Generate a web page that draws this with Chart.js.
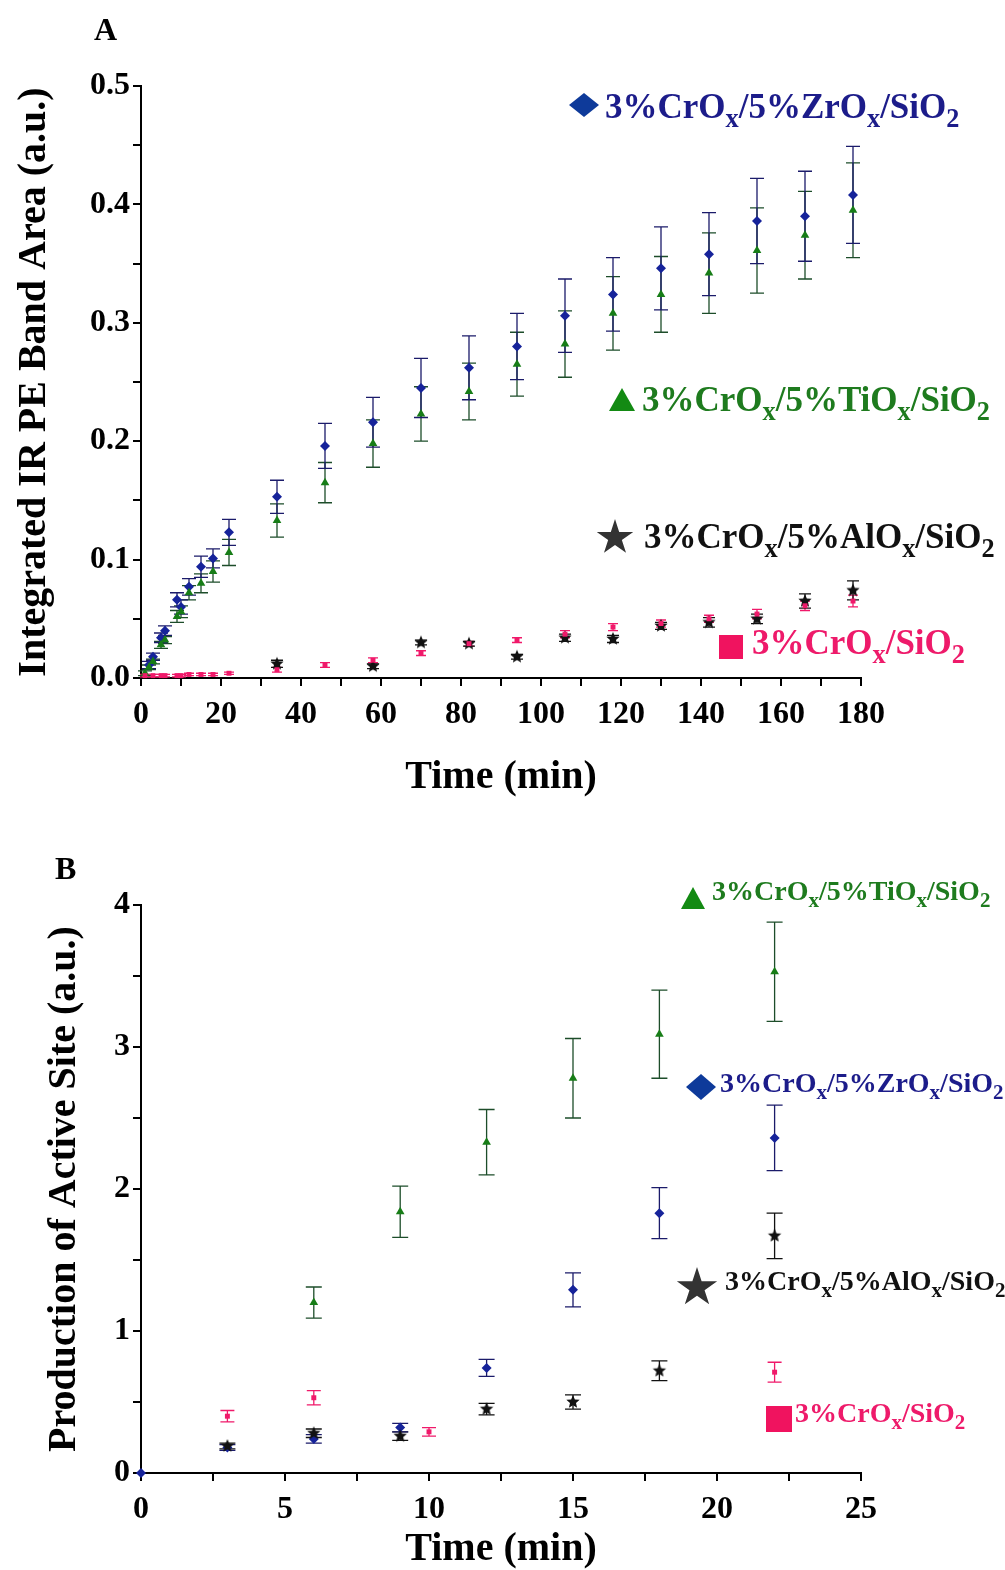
<!DOCTYPE html>
<html lang="en">
<head>
<meta charset="UTF-8">
<title>Integrated IR PE band area and active site production</title>
<script src="https://cdn.jsdelivr.net/npm/chart.js"></script>
<style>
  body { margin: 0; background: #fff; width: 1005px; height: 1570px; position: relative; overflow: hidden; font-family: "Liberation Serif", serif; }
  .pane { position: absolute; left: 0; width: 1005px; }
  #paneA { top: 0; height: 800px; }
  #paneB { top: 830px; height: 740px; }
  .lbl { position: absolute; font-weight: bold; white-space: nowrap; line-height: 1; }
  .lbl sub { font-size: 75%; vertical-align: -0.35em; line-height: 0; }
  .mk { position: absolute; }
  .dia { clip-path: polygon(50% 0, 100% 50%, 50% 100%, 0 50%); }
  .tri { clip-path: polygon(50% 0, 100% 100%, 0 100%); }
  .star { clip-path: polygon(50% 0%, 61% 35%, 98% 35%, 68% 57%, 79% 91%, 50% 70%, 21% 91%, 32% 57%, 2% 35%, 39% 35%); }
</style>
</head>
<body>
<div class="pane" id="paneA"><canvas id="chartA" width="1005" height="800"></canvas></div>
<div class="pane" id="paneB"><canvas id="chartB" width="1005" height="740"></canvas></div>

<div class="lbl" style="left:94px;top:13px;font-size:32px;">A</div>
<div class="lbl" style="left:55px;top:852px;font-size:32px;">B</div>

<!-- panel A legend -->
<div class="mk dia" style="left:569px;top:93px;width:30px;height:24px;background:#0e3a9a;"></div>
<div class="lbl" style="left:605px;top:89px;font-size:35px;color:#1c1c8a;">3%CrO<sub>x</sub>/5%ZrO<sub>x</sub>/SiO<sub>2</sub></div>
<div class="mk tri" style="left:609px;top:388px;width:26px;height:23px;background:#138a13;"></div>
<div class="lbl" style="left:642px;top:382px;font-size:35px;color:#1e7b1e;">3%CrO<sub>x</sub>/5%TiO<sub>x</sub>/SiO<sub>2</sub></div>
<div class="mk star" style="left:596px;top:519px;width:38px;height:37px;background:#333;"></div>
<div class="lbl" style="left:644px;top:519px;font-size:35px;color:#111;">3%CrO<sub>x</sub>/5%AlO<sub>x</sub>/SiO<sub>2</sub></div>
<div class="mk" style="left:719px;top:635px;width:24px;height:24px;background:#f0135f;"></div>
<div class="lbl" style="left:752px;top:625px;font-size:35px;color:#ee1a6a;">3%CrO<sub>x</sub>/SiO<sub>2</sub></div>

<!-- panel B legend -->
<div class="mk tri" style="left:681px;top:887px;width:24px;height:22px;background:#138a13;"></div>
<div class="lbl" style="left:712px;top:877px;font-size:28px;color:#1e7b1e;">3%CrO<sub>x</sub>/5%TiO<sub>x</sub>/SiO<sub>2</sub></div>
<div class="mk dia" style="left:686px;top:1074px;width:30px;height:26px;background:#0e3a9a;"></div>
<div class="lbl" style="left:720px;top:1069px;font-size:28px;color:#1c1c8a;">3%CrO<sub>x</sub>/5%ZrO<sub>x</sub>/SiO<sub>2</sub></div>
<div class="mk star" style="left:676px;top:1267px;width:42px;height:41px;background:#333;"></div>
<div class="lbl" style="left:725px;top:1267px;font-size:28px;color:#111;">3%CrO<sub>x</sub>/5%AlO<sub>x</sub>/SiO<sub>2</sub></div>
<div class="mk" style="left:766px;top:1406px;width:26px;height:26px;background:#f0135f;"></div>
<div class="lbl" style="left:795px;top:1399px;font-size:28px;color:#ee1a6a;">3%CrO<sub>x</sub>/SiO<sub>2</sub></div>

<script>
// ---- panel A : integrated IR PE band area vs time ----
var zrTimeA = [2, 3, 5, 6, 9, 10, 12, 15, 18, 22, 34, 46, 58, 70, 82, 94, 106, 118, 130, 142, 154, 166, 178];
var zrAreaA = [0.011, 0.018, 0.034, 0.040, 0.066, 0.060, 0.077, 0.094, 0.101, 0.123, 0.153, 0.196, 0.216, 0.245, 0.262, 0.280, 0.306, 0.324, 0.346, 0.358, 0.386, 0.390, 0.408];
var zrErrA  = [0.003, 0.003, 0.004, 0.004, 0.006, 0.006, 0.007, 0.009, 0.008, 0.011, 0.014, 0.019, 0.021, 0.025, 0.027, 0.028, 0.031, 0.031, 0.035, 0.035, 0.036, 0.038, 0.041];

var tiTimeA = [1, 2, 3, 5, 6, 9, 10, 12, 15, 18, 22, 34, 46, 58, 70, 82, 94, 106, 118, 130, 142, 154, 166, 178];
var tiAreaA = [0.004, 0.009, 0.014, 0.028, 0.032, 0.052, 0.056, 0.072, 0.080, 0.090, 0.106, 0.133, 0.165, 0.198, 0.223, 0.242, 0.265, 0.282, 0.308, 0.324, 0.342, 0.361, 0.374, 0.395];
var tiErrA  = [0.002, 0.002, 0.002, 0.003, 0.003, 0.005, 0.005, 0.006, 0.008, 0.009, 0.011, 0.014, 0.017, 0.020, 0.023, 0.024, 0.027, 0.028, 0.031, 0.032, 0.034, 0.036, 0.037, 0.040];

var alTimeA = [34, 58, 70, 82, 94, 106, 118, 130, 142, 154, 166, 178];
var alAreaA = [0.012, 0.010, 0.030, 0.029, 0.018, 0.034, 0.033, 0.044, 0.047, 0.050, 0.065, 0.074];
var alErrA  = [0.003, 0.002, 0.002, 0.002, 0.002, 0.003, 0.003, 0.003, 0.004, 0.004, 0.006, 0.008];

var crTimeA = [1, 3, 5, 6, 9, 10, 12, 15, 18, 22, 34, 46, 58, 70, 82, 94, 106, 118, 130, 142, 154, 166, 178];
var crAreaA = [0.002, 0.002, 0.002, 0.002, 0.002, 0.002, 0.003, 0.003, 0.003, 0.004, 0.007, 0.011, 0.015, 0.021, 0.029, 0.032, 0.037, 0.043, 0.046, 0.050, 0.054, 0.061, 0.065];
var crErrA  = [0.001, 0.001, 0.001, 0.001, 0.001, 0.001, 0.001, 0.001, 0.001, 0.001, 0.002, 0.002, 0.002, 0.002, 0.002, 0.002, 0.003, 0.003, 0.003, 0.003, 0.004, 0.004, 0.005];

// ---- panel B : production of active site vs time ----
var tiTimeB = [6, 9, 12, 15, 18, 22];
var tiSiteB = [1.20, 1.84, 2.33, 2.78, 3.09, 3.53];
var tiErrB  = [0.11, 0.18, 0.23, 0.28, 0.31, 0.35];

var zrTimeB = [0, 3, 6, 9, 12, 15, 18, 22];
var zrSiteB = [0, 0.18, 0.24, 0.32, 0.74, 1.29, 1.83, 2.36];
var zrErrB  = [0, 0.02, 0.03, 0.03, 0.06, 0.12, 0.18, 0.23];

var alTimeB = [3, 6, 9, 12, 15, 18, 22];
var alSiteB = [0.19, 0.28, 0.26, 0.45, 0.50, 0.72, 1.67];
var alErrB  = [0.02, 0.03, 0.03, 0.04, 0.05, 0.07, 0.16];

var crTimeB = [3, 6, 10, 22];
var crSiteB = [0.40, 0.53, 0.29, 0.71];
var crErrB  = [0.04, 0.05, 0.03, 0.07];

var tickFont = { family: 'Liberation Serif', weight: 'bold', size: 32 };

function pts(t, v) {
    return t.map(function (x, i) { return { x: x, y: v[i] }; });
}

// filled five point star used as point style
function starImage(r, color) {
    var c = document.createElement('canvas');
    c.width = c.height = 2 * r + 2;
    var g = c.getContext('2d');
    g.fillStyle = color;
    g.beginPath();
    for (var k = 0; k < 10; k++) {
        var rad = k % 2 ? r * 0.45 : r;
        var a = -Math.PI / 2 + k * Math.PI / 5;
        g.lineTo(r + 1 + rad * Math.cos(a), r + 1 + rad * Math.sin(a));
    }
    g.closePath();
    g.fill();
    return c;
}

// vertical error bars with caps, drawn under the points
var errorBars = {
    id: 'errorBars',
    beforeDatasetsDraw: function (chart) {
        var ctx = chart.ctx, xs = chart.scales.x, ys = chart.scales.y;
        chart.data.datasets.forEach(function (ds) {
            if (!ds.errors) return;
            ctx.save();
            ctx.strokeStyle = ds.errorColor;
            ctx.lineWidth = 1.3;
            ds.data.forEach(function (p, j) {
                var e = ds.errors[j];
                if (!e) return;
                var x = xs.getPixelForValue(p.x);
                var top = ys.getPixelForValue(p.y + e);
                var bot = ys.getPixelForValue(p.y - e);
                var w = ds.capWidth;
                ctx.beginPath();
                ctx.moveTo(x, top); ctx.lineTo(x, bot);
                ctx.moveTo(x - w, top); ctx.lineTo(x + w, top);
                ctx.moveTo(x - w, bot); ctx.lineTo(x + w, bot);
                ctx.stroke();
            });
            ctx.restore();
        });
    }
};

function series(t, v, err, style, color, errColor, radius, cap) {
    return {
        data: pts(t, v),
        errors: err,
        errorColor: errColor,
        capWidth: cap,
        pointStyle: style,
        pointRadius: radius,
        backgroundColor: color,
        borderColor: color,
        borderWidth: 0,
        showLine: false,
        clip: false
    };
}

function axis(min, max, step, digits, title, fitSize, horizontal, titlePad, titleLH) {
    return {
        type: 'linear',
        min: min,
        max: max,
        border: { color: '#000', width: 2 },
        grid: { drawOnChartArea: false, tickLength: 8, color: '#000', lineWidth: 2 },
        ticks: {
            stepSize: step,
            autoSkip: false,
            maxRotation: 0,
            color: '#000',
            padding: horizontal ? 10 : 3,
            font: tickFont,
            callback: function (v, i) {
                return i % 2 === 0 ? v.toFixed(digits) : '';
            }
        },
        title: {
            display: true, text: title, color: '#000',
            font: { family: 'Liberation Serif', weight: 'bold', size: 40, lineHeight: titleLH },
            padding: titlePad
        },
        afterFit: function (s) {
            if (horizontal) s.height = fitSize; else s.width = fitSize;
        }
    };
}

function makeChart(id, datasets, xs, ys, pad) {
    return new Chart(document.getElementById(id), {
        type: 'scatter',
        data: { datasets: datasets },
        options: {
            responsive: false,
            animation: false,
            layout: { padding: pad },
            plugins: { legend: { display: false }, tooltip: { enabled: false } },
            scales: { x: xs, y: ys }
        },
        plugins: [errorBars]
    });
}

var navy = '#16239a', green = '#177d17', black = '#111111', pink = '#f0196a';

makeChart('chartA', [
    series(crTimeA, crAreaA, crErrA, 'rect', pink, pink, 3.5, 5),
    series(alTimeA, alAreaA, alErrA, starImage(7, black), black, black, 6, 6),
    series(tiTimeA, tiAreaA, tiErrA, 'triangle', green, '#1d4d2a', 5, 7),
    series(zrTimeA, zrAreaA, zrErrA, 'rectRot', navy, '#1b1b6a', 5, 7)
],
    axis(0, 180, 10, 0, 'Time (min)', 122, true, { top: 0, bottom: 0 }, 1.1),
    axis(0, 0.5, 0.05, 1, 'Integrated IR PE Band Area (a.u.)', 141, false, { top: 11, bottom: 0 }, 1.2),
    { left: 0, right: 144, top: 86, bottom: 0 });

makeChart('chartB', [
    series(crTimeB, crSiteB, crErrB, 'rect', pink, pink, 3.5, 7),
    series(alTimeB, alSiteB, alErrB, starImage(7, black), black, black, 6, 8),
    series(tiTimeB, tiSiteB, tiErrB, 'triangle', green, '#1d4d2a', 5, 8),
    series(zrTimeB, zrSiteB, zrErrB, 'rectRot', navy, '#1b1b6a', 5, 8)
],
    axis(0, 25, 2.5, 0, 'Time (min)', 97, true, { top: 0, bottom: 0 }, 1.0),
    axis(0, 4, 0.5, 0, 'Production of Active Site (a.u.)', 141, false, { top: 41, bottom: 0 }, 1.2),
    { left: 0, right: 144, top: 75, bottom: 0 });
</script>
</body>
</html>
